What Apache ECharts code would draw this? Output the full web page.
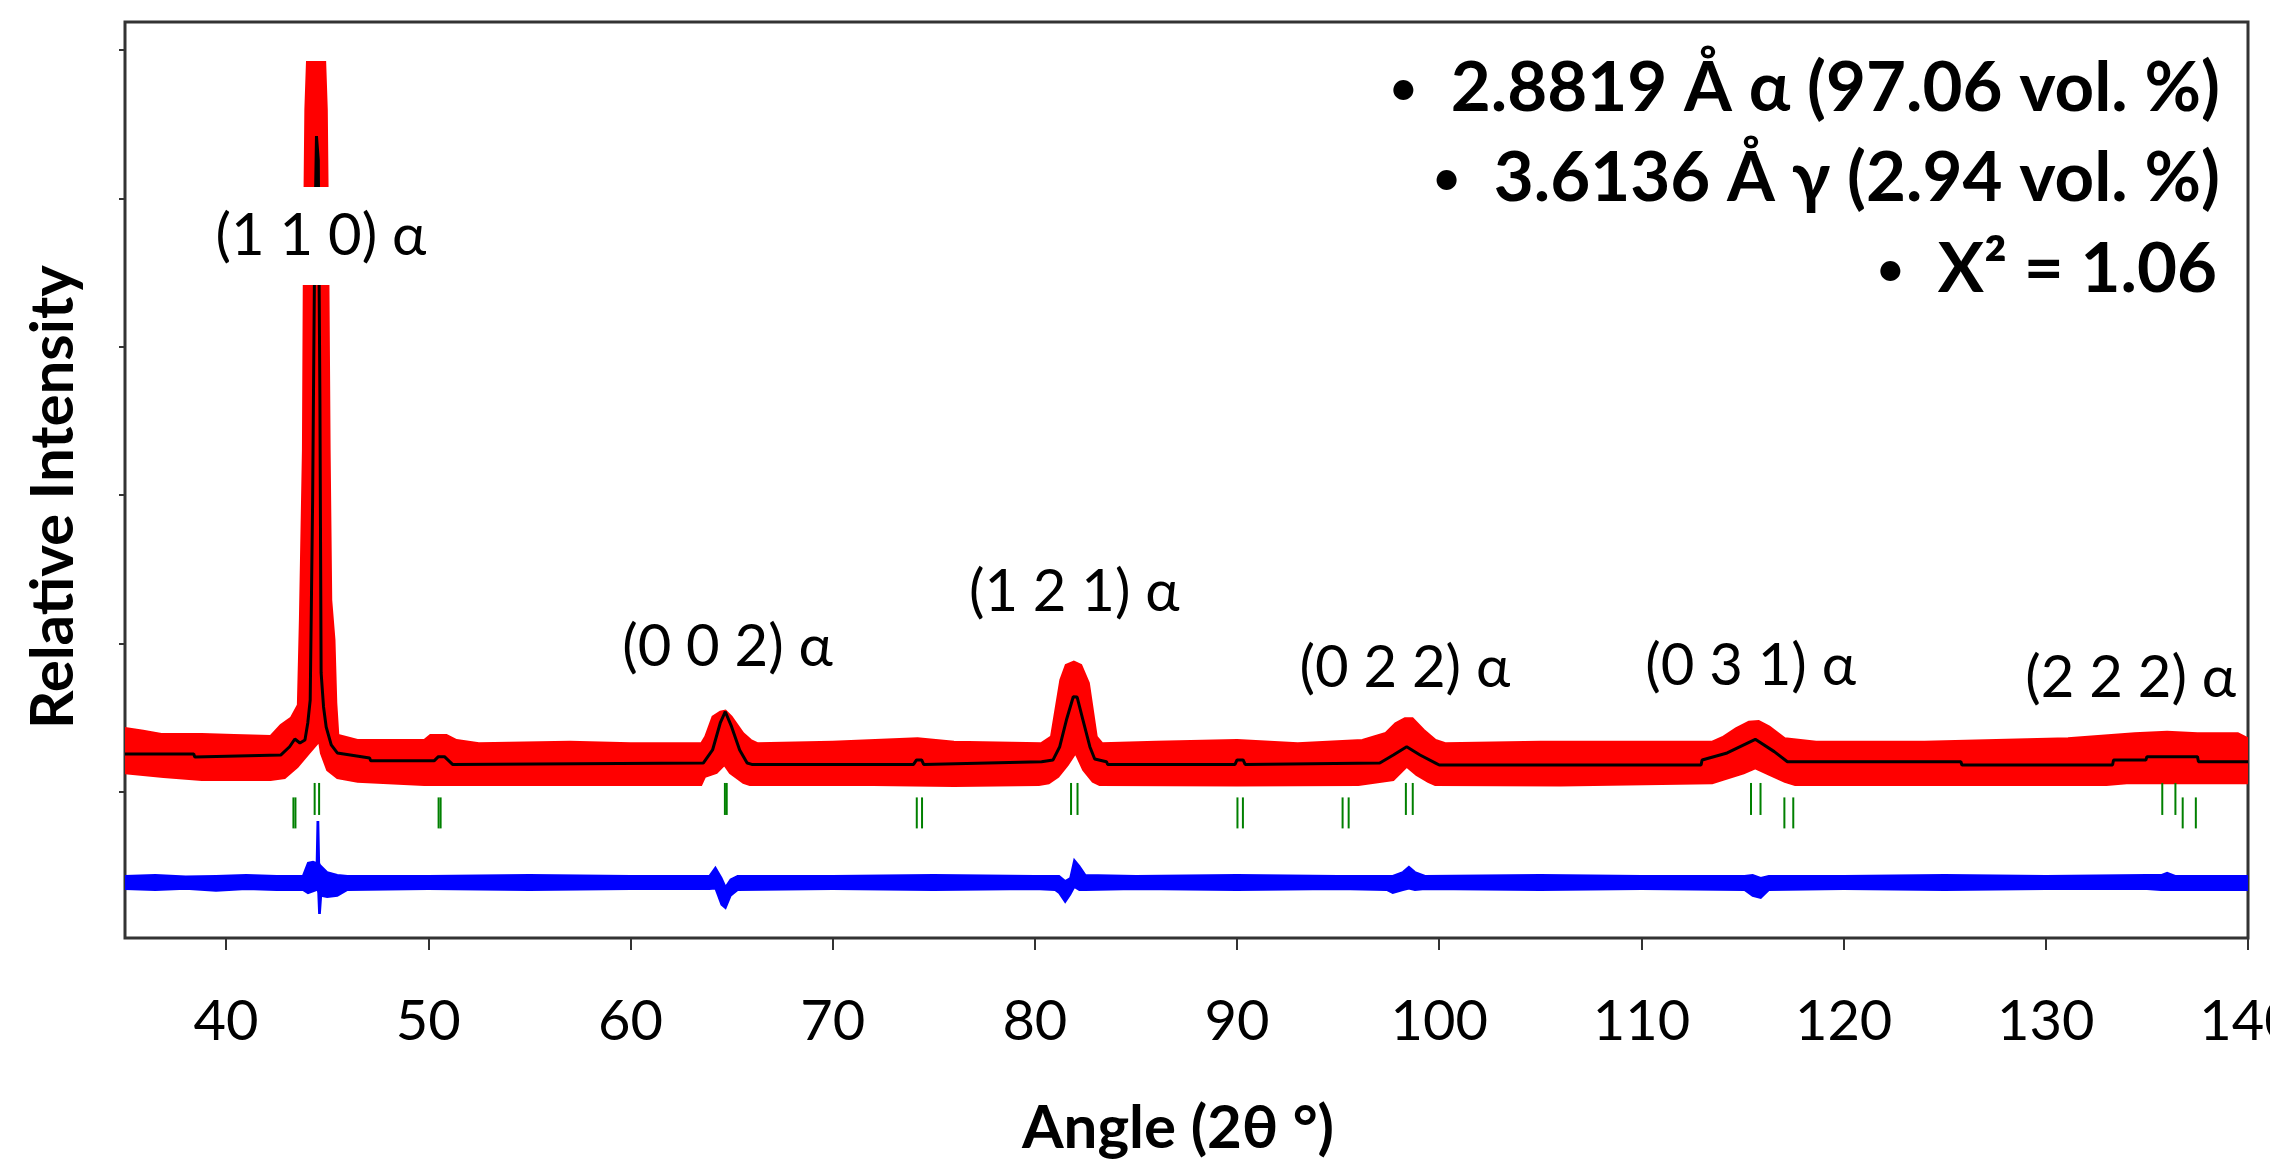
<!DOCTYPE html>
<html>
<head>
<meta charset="utf-8">
<title>Rietveld refinement</title>
<script src="https://cdn.jsdelivr.net/npm/echarts@6/dist/echarts.min.js"></script>
<style>
    html, body {margin: 0; padding: 0; background: #fff;}
    #chart {width: 2270px; height: 1167px;}
</style>
</head>
<body>
<div id="chart"></div>
<script>
// axis ticks
var xTicks = [40, 50, 60, 70, 80, 90, 100, 110, 120, 130, 140];
var yTicks = [0, 1000, 2000, 3000, 4000, 5000];

// observed points (red) - upper and lower edge of the point cloud
var obsTopAngle = [35.0, 35.9, 36.8, 38.8, 40.4, 42.2, 42.7, 43.2, 43.55, 43.65, 43.8, 43.85, 43.92, 44.0, 44.9, 44.98, 45.05, 45.12, 45.2, 45.36, 45.45, 45.55, 46.5, 49.8, 50.1, 50.9, 51.4, 52.5, 57.0, 60.0, 63.5, 63.7, 64.06, 64.44, 64.7, 65.0, 65.58, 65.96, 66.3, 70.0, 74.2, 76.0, 80.3, 80.8, 81.26, 81.53, 81.93, 82.29, 82.67, 83.06, 83.34, 86.0, 90.0, 93.0, 96.2, 97.35, 97.83, 98.3, 98.68, 99.24, 99.82, 100.3, 105.0, 110.0, 113.5, 114.0, 114.67, 115.31, 115.8, 116.33, 117.09, 118.64, 124.0, 131.1, 134.4, 136.0, 137.5, 139.5, 140.0];
var obsTop = [431, 413, 391, 391, 384, 377, 451, 499, 586, 1159, 2305, 3652, 4600, 4919, 4919, 4600, 3652, 2305, 1294, 1024, 600, 384, 350, 350, 384, 384, 350, 328, 339, 328, 328, 373, 507, 541, 548, 507, 396, 350, 328, 339, 362, 339, 328, 373, 755, 856, 878, 856, 735, 373, 328, 339, 350, 328, 350, 398, 463, 497, 497, 418, 350, 328, 339, 339, 339, 369, 429, 474, 478, 440, 362, 339, 339, 362, 396, 406, 396, 396, 362];
var obsBotAngle = [35.0, 36.9, 38.8, 42.2, 42.9, 43.53, 44.1, 44.6, 44.69, 45.0, 45.5, 46.5, 49.8, 60.0, 63.5, 63.69, 64.26, 64.64, 64.92, 65.58, 65.9, 72.0, 76.0, 80.2, 80.69, 81.16, 81.63, 82.01, 82.39, 82.86, 83.2, 90.0, 96.0, 97.73, 98.39, 98.87, 99.45, 99.8, 106.0, 113.5, 114.0, 115.06, 115.63, 116.33, 117.09, 117.6, 125.0, 133.0, 134.0, 140.0];
var obsBottom = [126, 101, 81, 81, 94, 168, 261, 339, 261, 148, 94, 69, 47, 47, 47, 103, 128, 182, 128, 61, 47, 47, 40, 47, 59, 103, 182, 261, 148, 69, 47, 43, 47, 81, 170, 115, 69, 47, 44, 59, 81, 126, 160, 115, 69, 47, 47, 47, 59, 59];

// calculated profile (black)
var calcAngle = [35.0, 38.4, 38.45, 42.7, 43.14, 43.4, 43.65, 43.9, 44.04, 44.16, 44.28, 44.38, 44.47, 44.56, 44.64, 44.70, 44.82, 44.95, 45.2, 45.5, 47.1, 47.15, 50.3, 50.5, 50.8, 51.2, 63.6, 64.06, 64.44, 64.69, 65.0, 65.4, 65.77, 66.0, 74.0, 74.15, 74.4, 74.5, 80.33, 80.9, 81.23, 81.56, 81.9, 82.09, 82.38, 82.72, 82.96, 83.54, 83.6, 89.9, 90.0, 90.3, 90.4, 97.06, 97.73, 98.39, 99.05, 99.82, 100.0, 112.95, 113.0, 114.24, 115.63, 116.57, 117.22, 125.8, 125.85, 133.3, 133.35, 134.95, 135.0, 137.5, 137.55, 140.0];
var calc = [256, 256, 236, 249, 305, 357, 330, 350, 465, 620, 1968, 3652, 4420, 4259, 2642, 802, 573, 438, 317, 263, 229, 211, 211, 238, 238, 186, 195, 283, 465, 541, 440, 283, 195, 186, 186, 216, 216, 186, 204, 216, 305, 485, 642, 640, 485, 305, 222, 204, 186, 186, 216, 216, 186, 195, 249, 305, 249, 195, 182, 182, 216, 263, 355, 272, 204, 204, 182, 182, 216, 216, 238, 238, 204, 204];

// difference curve (blue) - upper and lower edge
var diffAngle = [35.0, 36.5, 38.0, 39.5, 41.0, 42.5, 43.8, 44.05, 44.3, 44.48, 44.52, 44.56, 44.6, 44.64, 44.7, 45.0, 45.5, 46.0, 50.0, 55.0, 60.0, 63.9, 64.2, 64.5, 64.7, 64.95, 65.3, 70.0, 75.0, 80.0, 81.0, 81.2, 81.5, 81.75, 81.95, 82.2, 82.5, 85.0, 90.0, 95.0, 97.4, 97.7, 98.2, 98.5, 98.8, 99.3, 105.0, 110.0, 115.1, 115.5, 115.9, 116.3, 120.0, 125.0, 130.0, 135.0, 135.7, 136.0, 136.4, 140.0];
var diffTop = [-566, -560, -570, -566, -560, -566, -566, -478, -470, -480, -202, -202, -480, -492, -500, -540, -560, -566, -566, -560, -566, -566, -510, -580, -640, -590, -566, -566, -560, -566, -566, -566, -600, -580, -458, -500, -560, -566, -560, -566, -566, -566, -540, -505, -540, -566, -560, -566, -566, -560, -580, -566, -566, -560, -566, -560, -560, -545, -566, -566];
var diffBottom = [-654, -660, -652, -665, -654, -660, -660, -681, -670, -660, -650, -680, -815, -815, -700, -708, -700, -660, -654, -660, -654, -654, -650, -760, -782, -700, -660, -654, -660, -654, -660, -680, -741, -690, -640, -660, -660, -654, -660, -654, -660, -681, -660, -650, -660, -654, -660, -654, -660, -700, -714, -660, -654, -660, -654, -654, -660, -660, -660, -660];

// Bragg positions (green), alpha row and gamma row
var alphaTicks = [44.38, 44.60, 64.67, 64.76, 81.79, 82.11, 98.35, 98.69, 115.42, 115.89, 135.76, 136.41];
var gammaTicks = [43.33, 43.43, 50.51, 50.61, 74.16, 74.42, 90.02, 90.29, 95.22, 95.52, 117.07, 117.51, 136.77, 137.42];
var alphaRow = -47;
var gammaRow = -141;

// peak labels
var peakLabelTexts = ['(1 1 0) α', '(0 0 2) α', '(1 2 1) α', '(0 2 2) α', '(0 3 1) α', '(2 2 2) α'];
var peakLabelAngles = [44.69, 64.8, 81.95, 98.3, 115.4, 134.2];
var peakLabelValues = [3746, 975, 1348, 835, 845, 768];

// refinement results
var resultLines = ['2.8819 Å α (97.06 vol. %)', '3.6136 Å γ (2.94 vol. %)', 'X² = 1.06'];

var FONT = 'Lato, "Open Sans", sans-serif';

function pairs(xs, ys) {
    var out = [];
    for (var i = 0; i < xs.length; i++) {
        out.push([xs[i], ys[i]]);
    }
    return out;
}

function rowData(xs, level) {
    var out = [];
    for (var i = 0; i < xs.length; i++) {
        out.push([xs[i], level]);
    }
    return out;
}

// filled band between an upper and a lower edge
function bandItem(topAngle, top, botAngle, bottom, color) {
    return function (params, api) {
        var points = [];
        for (var i = 0; i < topAngle.length; i++) {
            points.push(api.coord([topAngle[i], top[i]]));
        }
        for (var j = botAngle.length - 1; j >= 0; j--) {
            points.push(api.coord([botAngle[j], bottom[j]]));
        }
        return {
            type: 'polygon',
            shape: {points: points},
            style: {fill: color, stroke: color, lineWidth: 2}
        };
    };
}

var labelData = [];
for (var k = 0; k < peakLabelTexts.length; k++) {
    var item = {value: [peakLabelAngles[k], peakLabelValues[k]]};
    if (k === 0) {
        item.label = {backgroundColor: '#fff', padding: [20, 8]};
    }
    labelData.push(item);
}

var graphics = [];
var lineY = [89, 179, 270];
var lineRight = [2220, 2220, 2217];
for (var n = 0; n < resultLines.length; n++) {
    graphics.push({
        type: 'text',
        x: lineRight[n],
        y: lineY[n],
        z: 20,
        style: {
            text: '{b|•}{s| }' + resultLines[n],
            fontSize: 69,
            fontWeight: 'bold',
            fontFamily: FONT,
            fill: '#000',
            align: 'right',
            verticalAlign: 'middle',
            textAlign: 'right',
            textVerticalAlign: 'middle',
            rich: {
                b: {fontSize: 46, fontWeight: 'bold', fontFamily: FONT, fill: '#000'},
                s: {width: 34}
            }
        }
    });
}

var myChart = echarts.init(document.getElementById('chart'));
var option = {
    animation: false,
    backgroundColor: '#fff',
    grid: {
        left: 125,
        right: 22,
        top: 22,
        bottom: 229,
        show: true,
        borderColor: '#333',
        borderWidth: 3,
        containLabel: false,
        outerBoundsMode: 'none'
    },
    xAxis: {
        type: 'value',
        min: 35,
        max: 140,
        name: 'Angle (2θ °)',
        nameLocation: 'middle',
        nameGap: 161,
        nameTextStyle: {
            fontSize: 60,
            fontWeight: 'bold',
            fontFamily: FONT,
            color: '#000',
            padding: [0, 17, 0, 0]
        },
        axisLine: {show: false, onZero: false},
        axisTick: {
            show: true,
            length: 12,
            customValues: xTicks,
            lineStyle: {color: '#333', width: 2}
        },
        axisLabel: {
            show: true,
            customValues: xTicks,
            margin: 56,
            fontSize: 56,
            fontFamily: FONT,
            color: '#000',
            showMinLabel: true,
            showMaxLabel: true
        },
        splitLine: {show: false}
    },
    yAxis: {
        type: 'value',
        min: -984,
        max: 5189,
        name: 'Relative Intensity',
        nameLocation: 'middle',
        nameGap: 41,
        nameTextStyle: {
            fontSize: 60,
            fontWeight: 'bold',
            fontFamily: FONT,
            color: '#000',
            padding: [0, 34, 0, 0]
        },
        axisLine: {show: false, onZero: false},
        axisTick: {
            show: true,
            length: 6,
            customValues: yTicks,
            lineStyle: {color: '#333', width: 2}
        },
        axisLabel: {show: false},
        splitLine: {show: false}
    },
    graphic: graphics,
    series: [
        {
            name: 'observed',
            type: 'custom',
            coordinateSystem: 'cartesian2d',
            renderItem: bandItem(obsTopAngle, obsTop, obsBotAngle, obsBottom, '#ff0000'),
            data: [[35, 0]],
            clip: true,
            silent: true,
            z: 2
        },
        {
            name: 'calculated',
            type: 'line',
            data: pairs(calcAngle, calc),
            showSymbol: false,
            lineStyle: {color: '#000', width: 3},
            silent: true,
            z: 3
        },
        {
            name: 'difference',
            type: 'custom',
            coordinateSystem: 'cartesian2d',
            renderItem: bandItem(diffAngle, diffTop, diffAngle, diffBottom, '#0000ff'),
            data: [[35, 0]],
            clip: true,
            silent: true,
            z: 2
        },
        {
            name: 'alpha',
            type: 'scatter',
            data: rowData(alphaTicks, alphaRow),
            symbol: 'rect',
            symbolSize: [2, 32],
            itemStyle: {color: '#008000', opacity: 1},
            silent: true,
            z: 3
        },
        {
            name: 'gamma',
            type: 'scatter',
            data: rowData(gammaTicks, gammaRow),
            symbol: 'rect',
            symbolSize: [2, 31],
            itemStyle: {color: '#008000', opacity: 1},
            silent: true,
            z: 3
        },
        {
            name: 'labels',
            type: 'scatter',
            data: labelData,
            symbolSize: 1,
            itemStyle: {color: 'rgba(0,0,0,0)', opacity: 1},
            label: {
                show: true,
                position: 'inside',
                formatter: function (p) {
                    return peakLabelTexts[p.dataIndex];
                },
                fontSize: 58,
                fontFamily: FONT,
                color: '#000'
            },
            silent: true,
            z: 10
        }
    ]
};
myChart.setOption(option);
</script>
</body>
</html>
